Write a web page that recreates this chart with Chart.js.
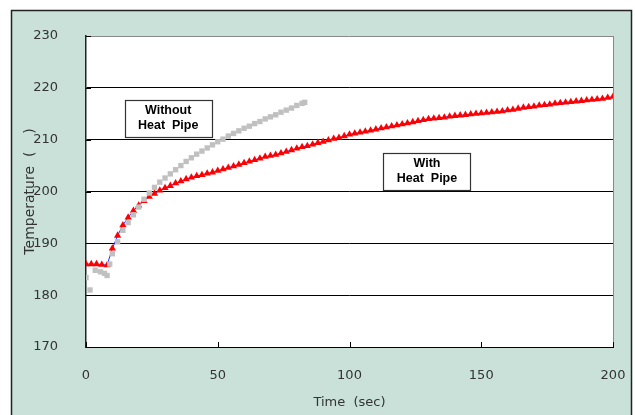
<!DOCTYPE html>
<html>
<head>
<meta charset="utf-8">
<script src="https://cdn.jsdelivr.net/npm/chart.js@4.4.1/dist/chart.umd.min.js"></script>
<style>
  html, body { margin: 0; padding: 0; background: #fff; }
  #wrap { width: 635px; height: 415px; position: relative; }
</style>
</head>
<body>
<div id="wrap"><canvas id="tempChart" width="635" height="415"></canvas></div>
<script>
// With heat pipe (red triangles), every 2 sec
const withTimes = [];
for (let t = 0; t <= 200; t += 2) withTimes.push(t);
const withTemps = [
    186.0, 186.0, 186.0, 185.9, 185.8, 189.0, 191.5, 193.5, 195.0, 196.3,
    197.3, 198.2, 199.0, 199.6, 200.2, 200.7, 201.1, 201.6, 202.0, 202.4,
    202.7, 203.0, 203.2, 203.5, 203.7, 204.0, 204.3, 204.6, 204.9, 205.2,
    205.5, 205.8, 206.1, 206.4, 206.7, 206.9, 207.1, 207.4, 207.7, 208.0,
    208.3, 208.6, 208.8, 209.1, 209.4, 209.6, 209.9, 210.2, 210.4, 210.7,
    211.0, 211.2, 211.4, 211.6, 211.8, 212.0, 212.2, 212.4, 212.6, 212.8,
    213.0, 213.2, 213.4, 213.6, 213.8, 214.0, 214.1, 214.2, 214.3, 214.5,
    214.6, 214.7, 214.8, 214.9, 215.0, 215.1, 215.2, 215.3, 215.4, 215.5,
    215.7, 215.8, 216.0, 216.2, 216.3, 216.4, 216.6, 216.7, 216.8, 217.0,
    217.1, 217.2, 217.3, 217.4, 217.5, 217.6, 217.7, 217.8, 217.9, 218.1,
    218.3
];

// Without heat pipe (grey squares)
const withoutTimes = [
    0, 1.5, 3.5, 5.5, 7, 8, 9, 10, 12, 14, 16, 18, 20, 22, 24, 26, 28, 30,
    32, 34, 36, 38, 40, 42, 44, 46, 48, 50, 52, 54, 56, 58, 60, 62, 64, 66,
    68, 70, 72, 74, 76, 78, 80, 82, 83
];
const withoutTemps = [
    183.4, 181.0, 184.8, 184.5, 184.2, 183.8, 186.0, 188.0, 190.3, 192.5,
    194.0, 195.5, 197.0, 198.5, 199.7, 200.8, 201.8, 202.6, 203.4, 204.2,
    205.0, 205.8, 206.5, 207.2, 207.8, 208.4, 209.0, 209.6, 210.1, 210.7,
    211.2, 211.7, 212.2, 212.6, 213.1, 213.5, 214.0, 214.4, 214.8, 215.3,
    215.7, 216.1, 216.6, 217.0, 217.2
];

const xTicks = [0, 50, 100, 150, 200];
const yTicks = [170, 180, 190, 200, 210, 220, 230];

// annotation boxes: label lines + anchor (sec, temp)
const notes = [
    { lines: ['Without', 'Heat  Pipe'], at: [31.2, 214.1] },
    { lines: ['With', 'Heat  Pipe'], at: [129.4, 203.9] }
];

const frame = {
    id: 'frame',
    beforeDraw(chart) {
        const ctx = chart.ctx, a = chart.chartArea;
        ctx.save();
        ctx.fillStyle = '#C9E1D9';
        ctx.fillRect(11, 10, 621, 420);
        ctx.strokeStyle = '#222';
        ctx.lineWidth = 1.5;
        ctx.beginPath();
        ctx.moveTo(11.5, 420); ctx.lineTo(11.5, 10.5); ctx.lineTo(631.5, 10.5); ctx.lineTo(631.5, 420);
        ctx.stroke();
        ctx.fillStyle = '#fff';
        ctx.fillRect(a.left, a.top, a.right - a.left, a.bottom - a.top);
        ctx.restore();
    },
    afterDatasetsDraw(chart) {
        const ctx = chart.ctx, a = chart.chartArea;
        const xs = chart.scales.x, ys = chart.scales.y;
        ctx.save();
        // right border
        ctx.strokeStyle = '#888';
        ctx.lineWidth = 1;
        ctx.beginPath();
        ctx.moveTo(Math.round(a.right) + 0.5, a.top);
        ctx.lineTo(Math.round(a.right) + 0.5, a.bottom);
        ctx.stroke();
        // inside tick marks
        ctx.strokeStyle = '#000';
        ctx.beginPath();
        xTicks.forEach(v => {
            const px = Math.round(xs.getPixelForValue(v)) + 0.5;
            ctx.moveTo(px, a.bottom); ctx.lineTo(px, a.bottom - 5);
        });
        yTicks.forEach(v => {
            const py = Math.round(ys.getPixelForValue(v)) + 0.5;
            ctx.moveTo(a.left, py); ctx.lineTo(a.left + 5, py);
        });
        ctx.stroke();
        // note boxes
        ctx.font = 'bold 12.5px "Liberation Sans", Arial, sans-serif';
        ctx.textAlign = 'center';
        ctx.textBaseline = 'middle';
        notes.forEach(n => {
            const cx = xs.getPixelForValue(n.at[0]);
            const cy = ys.getPixelForValue(n.at[1]);
            const w = 87, h = 37;
            ctx.fillStyle = '#fff';
            ctx.fillRect(cx - w / 2, cy - h / 2, w, h);
            ctx.strokeStyle = '#333';
            ctx.lineWidth = 1.2;
            ctx.strokeRect(Math.round(cx - w / 2) + 0.5, Math.round(cy - h / 2) + 0.5, w, h);
            ctx.fillStyle = '#000';
            ctx.fillText(n.lines[0], cx, cy - 8);
            ctx.fillText(n.lines[1], cx, cy + 7);
        });
        ctx.restore();
    }
};

const tickFont = { family: '"DejaVu Sans", sans-serif', size: 13 };

new Chart(document.getElementById('tempChart'), {
    type: 'scatter',
    data: {
        datasets: [
            {
                label: 'Without Heat Pipe',
                data: withoutTimes.map((t, i) => ({ x: t, y: withoutTemps[i] })),
                showLine: false,
                pointStyle: 'rect',
                pointRadius: 3.8,
                pointBackgroundColor: '#C0C0C0',
                pointBorderColor: '#C0C0C0',
                pointBorderWidth: 0
            },
            {
                label: 'With Heat Pipe',
                data: withTimes.map((t, i) => ({ x: t, y: withTemps[i] })),
                showLine: true,
                borderColor: '#2030ff',
                borderWidth: 1,
                pointStyle: 'triangle',
                pointRadius: 4.2,
                pointBackgroundColor: '#FF0000',
                pointBorderColor: '#FF0000',
                pointBorderWidth: 0
            }
        ]
    },
    options: {
        responsive: false,
        animation: false,
        layout: { padding: { top: 36, right: 22, left: 0, bottom: 0 } },
        plugins: { legend: { display: false }, tooltip: { enabled: false } },
        scales: {
            x: {
                type: 'linear',
                min: 0, max: 200,
                afterBuildTicks: s => { s.ticks = xTicks.map(v => ({ value: v })); },
                afterFit: s => { s.height = 68; s.paddingLeft = 0; s.paddingRight = 0; },
                ticks: { color: '#333', font: tickFont, padding: 21, maxRotation: 0 },
                grid: { display: false, drawTicks: false },
                border: { display: true, color: '#000', width: 1 },
                title: {
                    display: true, text: 'Time  (sec)', color: '#333',
                    font: tickFont, padding: { top: 5, bottom: 5 }
                }
            },
            y: {
                min: 170, max: 230,
                afterBuildTicks: s => { s.ticks = yTicks.map(v => ({ value: v })); },
                afterFit: s => { s.width = 86; s.paddingTop = 0; s.paddingBottom = 0; },
                ticks: { color: '#333', font: tickFont, padding: 28 },
                grid: {
                    drawTicks: false,
                    color: c => (c.tick && c.tick.value === 230) ? '#888' : '#000',
                    lineWidth: 1
                },
                border: { display: true, color: '#222', width: 1.5 },
                title: {
                    display: true, text: 'Temperature  (    )', color: '#333',
                    font: { family: '"DejaVu Sans", sans-serif', size: 14 },
                    padding: { top: 22, bottom: 0 }
                }
            }
        }
    },
    plugins: [frame]
});
</script>
</body>
</html>
